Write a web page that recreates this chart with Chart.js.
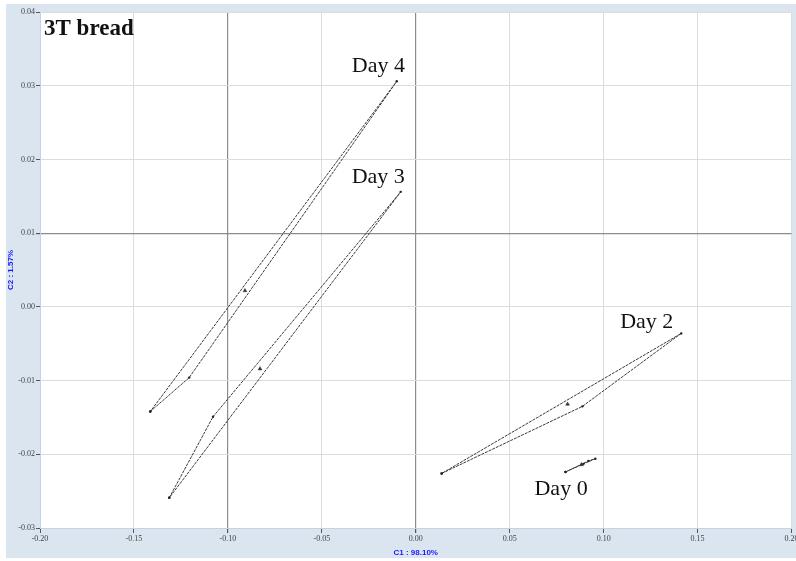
<!DOCTYPE html>
<html>
<head>
<meta charset="utf-8">
<script src="https://cdn.jsdelivr.net/npm/chart.js@4/dist/chart.umd.min.js"></script>
<style>
  html,body{margin:0;padding:0;background:#fff;}
  #wrap{width:796px;height:561px;}
</style>
</head>
<body>
<div id="wrap"><canvas id="pca"></canvas></div>
<script>
/* =========================================
   DATA  (PCA scores, C1 vs C2)
========================================= */

const groupNames = ['Day 0','Day 2','Day 3','Day 4'];

const day0X = [0.0797, 0.0919, 0.0956, 0.0893, 0.0797];
const day0Y = [-0.0224, -0.0209, -0.0206, -0.0213, -0.0224];

const day2X = [0.0138, 0.0887, 0.1413, 0.0138];
const day2Y = [-0.0226, -0.0135, -0.0036, -0.0226];

const day3X = [-0.1312, -0.1079, -0.0080, -0.1312];
const day3Y = [-0.0259, -0.0149, 0.0156, -0.0259];

const day4X = [-0.1413, -0.1206, -0.0101, -0.1413];
const day4Y = [-0.0142, -0.0096, 0.0306, -0.0142];

// group centres
const centreX = [0.0882, 0.0808, -0.0829, -0.0909];
const centreY = [-0.0214, -0.0132, -0.0084, 0.0022];

const xTicks = [-0.20,-0.15,-0.10,-0.05,0.00,0.05,0.10,0.15,0.20];
const yTicks = [-0.03,-0.02,-0.01,0.00,0.01,0.02,0.03,0.04];

const xTitle = 'C1 : 98.10%';
const yTitle = 'C2 : 1.57%';
const chartTitle = '3T bread';


/* =========================================
   HELPERS
========================================= */

function pts(xs,ys){
  return xs.map((x,i)=>({x:x,y:ys[i]}));
}

function outline(xs,ys){
  return {
    data:pts(xs,ys),
    showLine:true,
    borderColor:'#3a3a3a',
    borderWidth:1,
    borderDash:[3,1],
    pointRadius:1.2,
    pointBackgroundColor:'#222',
    pointBorderWidth:0,
    fill:false,
    tension:0
  };
}

function near(a,b){ return Math.abs(a-b) < 1e-6; }


/* =========================================
   PLUGINS
========================================= */

const backdrop = {
  id:'backdrop',
  beforeDraw(chart){
    const c = chart.ctx, a = chart.chartArea;
    c.save();
    c.fillStyle = '#ffffff';
    c.fillRect(0,0,chart.width,chart.height);
    c.fillStyle = '#dbe5f0';
    c.fillRect(6,4,chart.width-6,chart.height-7);
    c.fillStyle = '#ffffff';
    c.fillRect(a.left,a.top,a.right-a.left,a.bottom-a.top);
    c.restore();
  }
};

// label = [dataset index, point index, dx, dy]
const labelAnchors = {
  'Day 4':[3,2,-45,-9],
  'Day 3':[2,2,-49,-9],
  'Day 2':[1,2,-61,-5],
  'Day 0':[0,0,-31,23]
};

const dayLabels = {
  id:'dayLabels',
  afterDatasetsDraw(chart){
    const c = chart.ctx;
    const sx = chart.scales.x, sy = chart.scales.y;
    c.save();
    c.fillStyle = '#111';
    c.textBaseline = 'alphabetic';
    c.textAlign = 'left';
    c.font = '22px "Liberation Serif", "DejaVu Serif", serif';
    groupNames.forEach(name=>{
      const [ds,pi,dx,dy] = labelAnchors[name];
      const p = chart.data.datasets[ds].data[pi];
      c.fillText(name, sx.getPixelForValue(p.x)+dx, sy.getPixelForValue(p.y)+dy);
    });
    c.font = 'bold 23px "Liberation Serif", "DejaVu Serif", serif';
    c.fillText(chartTitle, chart.chartArea.left+4, chart.chartArea.top+23);
    c.restore();
  }
};


/* =========================================
   CHART
========================================= */

new Chart(document.getElementById('pca'),{
  type:'scatter',
  data:{
    datasets:[
      outline(day0X,day0Y),
      outline(day2X,day2Y),
      outline(day3X,day3Y),
      outline(day4X,day4Y),
      {
        data:pts(centreX,centreY),
        showLine:false,
        pointStyle:'triangle',
        pointRadius:2.2,
        pointBackgroundColor:'#333',
        pointBorderColor:'#333',
        pointBorderWidth:0.5
      }
    ]
  },
  options:{
    responsive:true,
    maintainAspectRatio:false,
    animation:false,
    layout:{padding:{left:6,right:3,top:12,bottom:3}},
    plugins:{
      legend:{display:false},
      tooltip:{enabled:false}
    },
    scales:{
      x:{
        type:'linear',
        min:xTicks[0],
        max:xTicks[xTicks.length-1],
        afterBuildTicks(s){ s.ticks = xTicks.map(v=>({value:v})); },
        afterFit(s){ s.height = 30; s.paddingRight = 0; s.paddingLeft = 0; },
        ticks:{
          callback:v=>v.toFixed(2),
          color:'#444',
          font:{size:8,family:'"Liberation Serif", serif'},
          padding:1,
          maxRotation:0,
          autoSkip:false
        },
        grid:{
          color:ctx=>(ctx.tick && (near(ctx.tick.value,-0.10)||near(ctx.tick.value,0))) ? '#8c8c8c' : '#dcdcdc',
          lineWidth:ctx=>(ctx.tick && (near(ctx.tick.value,-0.10)||near(ctx.tick.value,0))) ? 1.2 : 1,
          tickLength:5,
          tickColor:'#555'
        },
        border:{color:'#c5d2e6'},
        title:{
          display:true,
          text:xTitle,
          color:'#1a1aff',
          font:{size:8,weight:'bold',family:'"Liberation Sans", sans-serif'},
          padding:{top:0,bottom:0}
        }
      },
      y:{
        type:'linear',
        min:yTicks[0],
        max:yTicks[yTicks.length-1],
        afterBuildTicks(s){ s.ticks = yTicks.map(v=>({value:v})); },
        afterFit(s){ s.width = 34; },
        ticks:{
          callback:v=>v.toFixed(2),
          color:'#444',
          font:{size:8,family:'"Liberation Serif", serif'},
          padding:1,
          autoSkip:false
        },
        grid:{
          color:ctx=>(ctx.tick && near(ctx.tick.value,0.01)) ? '#8c8c8c' : '#dcdcdc',
          lineWidth:ctx=>(ctx.tick && near(ctx.tick.value,0.01)) ? 1.2 : 1,
          tickLength:4,
          tickColor:'#555'
        },
        border:{color:'#c5d2e6'},
        title:{
          display:true,
          text:yTitle,
          color:'#1a1aff',
          font:{size:8,weight:'bold',family:'"Liberation Sans", sans-serif'},
          padding:{top:0,bottom:2}
        }
      }
    }
  },
  plugins:[backdrop,dayLabels]
});
</script>
</body>
</html>
